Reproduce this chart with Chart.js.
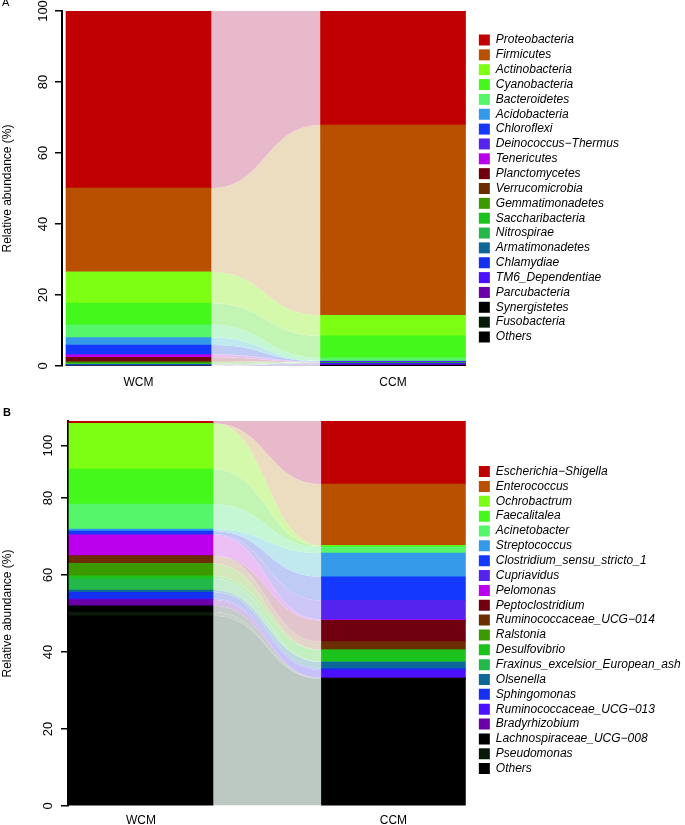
<!DOCTYPE html>
<html>
<head>
<meta charset="utf-8">
<script src="https://cdn.jsdelivr.net/npm/chart.js@4.4.1/dist/chart.umd.min.js"></script>
<style>
  body { margin: 0; background: #fff; width: 685px; height: 825px; overflow: hidden; position: relative; font-family: "Liberation Sans", Arial, sans-serif; }
  canvas { position: absolute; left: 0; }
  #chartA { top: 0; }
  #chartB { top: 395px; }
  .tag { position: absolute; font-size: 11px; color: #000; z-index: 2; }
</style>
</head>
<body>
<canvas id="chartA" width="685" height="395"></canvas>
<canvas id="chartB" width="685" height="430"></canvas>
<div class="tag" style="left:2px;top:-4px">A</div>
<div class="tag" style="left:3px;top:406px;font-weight:bold">B</div>
<script>
const groups = ['WCM', 'CCM']

// panel A, phylum level (legend order = top of the stack first)
const phyla = ['Proteobacteria', 'Firmicutes', 'Actinobacteria', 'Cyanobacteria', 'Bacteroidetes',
  'Acidobacteria', 'Chloroflexi', 'Deinococcus\u2212Thermus', 'Tenericutes', 'Planctomycetes',
  'Verrucomicrobia', 'Gemmatimonadetes', 'Saccharibacteria', 'Nitrospirae', 'Armatimonadetes',
  'Chlamydiae', 'TM6_Dependentiae', 'Parcubacteria', 'Synergistetes', 'Fusobacteria', 'Others']
const phylaWCM = [49.9, 23.6, 8.8, 6.1, 3.6, 2.1, 2.6, 0.15, 0.7, 1.05, 0.3, 0.4, 0.2, 0.1, 0.1, 0.3, 0, 0, 0, 0, 0]
const phylaCCM = [32.1, 53.6, 5.8, 6.2, 0.9, 0.1, 0.1, 0.1, 0.05, 0.05, 0.05, 0.05, 0.05, 0.05, 0.05, 0.05, 0.3, 0.2, 0.05, 0.05, 0.1]

// panel B, genus level
const genera = ['Escherichia\u2212Shigella', 'Enterococcus', 'Ochrobactrum', 'Faecalitalea', 'Acinetobacter',
  'Streptococcus', 'Clostridium_sensu_stricto_1', 'Cupriavidus', 'Pelomonas', 'Peptoclostridium',
  'Ruminococcaceae_UCG\u2212014', 'Ralstonia', 'Desulfovibrio', 'Fraxinus_excelsior_European_ash', 'Olsenella',
  'Sphingomonas', 'Ruminococcaceae_UCG\u2212013', 'Bradyrhizobium', 'Lachnospiraceae_UCG\u2212008', 'Pseudomonas', 'Others']
const generaWCM = [0.6, 0, 11.9, 9.1, 6.5, 0.5, 0.8, 0.2, 5.4, 0, 2.0, 3.2, 0.8, 2.9, 0.6, 1.7, 0.2, 1.6, 1.6, 1.0, 49.4]
const generaCCM = [16.4, 15.9, 0.1, 0.3, 1.6, 6.2, 6.1, 5.0, 0.2, 5.5, 2.1, 0.1, 3.0, 0.1, 1.7, 0.4, 2.0, 0.1, 0.1, 0.1, 33.0]

// y tick positions and their printed labels
const ticksA = [0, 20, 40, 60, 80, 100]
const tickLabelsA = ['0', '20', '40', '60', '80', '100']
const ticksB = [0, 20, 40, 60, 80, 93.6]
const tickLabelsB = ['0', '20', '40', '60', '80', '100']

const barColors = ['#c00000', '#b85000', '#7cff12', '#45f81b', '#55f66a', '#3399e8', '#1538ff',
  '#5522ee', '#bb00ee', '#700010', '#6b2e00', '#3a9a00', '#1cc21c', '#22b84a', '#0d6799',
  '#1430f0', '#4a10ff', '#6a00a8', '#000000', '#0a1a0a', '#000000']
const flowColors = ['#e7b9cb', '#ecdcc0', '#d4f9aa', '#c2f5b4', '#c5f7d4', '#bfe9ef', '#c0cbf5',
  '#cfc6f8', '#ecc0f5', '#e2c4cc', '#e3d6c8', '#d4e8bc', '#c4efc0', '#c8ecd0', '#bcd8e0',
  '#c0c8f4', '#c8c0f8', '#d6c0ea', '#c4ccca', '#c6d0c8', '#bcc8c2']

Chart.defaults.font.family = '"Liberation Sans", Arial, sans-serif'
Chart.defaults.color = '#000'

// ribbons between the right edge of WCM and the left edge of CCM
const flowPlugin = {
  id: 'flows',
  beforeDatasetsDraw(chart) {
    const ctx = chart.ctx
    chart.data.datasets.forEach((ds, i) => {
      const [a, b] = chart.getDatasetMeta(i).data
      if (!a || !b) return
      const x0 = a.x + a.width / 2
      const x1 = b.x - b.width / 2
      const k = (x1 - x0) * 0.5
      ctx.save()
      ctx.fillStyle = ds.flowColor
      ctx.beginPath()
      ctx.moveTo(x0, a.y)
      ctx.bezierCurveTo(x0 + k, a.y, x1 - k, b.y, x1, b.y)
      ctx.lineTo(x1, b.base)
      ctx.bezierCurveTo(x1 - k, b.base, x0 + k, a.base, x0, a.base)
      ctx.closePath()
      ctx.fill()
      ctx.restore()
    })
  }
}

// axis labels drawn like base R: y numbers along the axis, group names under the bars
const axisLabelPlugin = {
  id: 'axisLabels',
  afterDraw(chart, args, opts) {
    const ys = chart.scales.y
    const xs = chart.scales.x
    const ctx = chart.ctx
    ctx.save()
    ctx.fillStyle = '#000'
    ctx.font = '13px "Liberation Sans", Arial, sans-serif'
    ctx.textAlign = 'center'
    ctx.textBaseline = 'alphabetic'
    ys.ticks.forEach((t, i) => {
      ctx.save()
      ctx.translate(ys.right - opts.gap, ys.getPixelForValue(t.value))
      ctx.rotate(-Math.PI / 2)
      ctx.fillText(opts.labels[i], 0, 0)
      ctx.restore()
    })
    ctx.font = '12px "Liberation Sans", Arial, sans-serif'
    ctx.textBaseline = 'top'
    groups.forEach((g, i) => {
      ctx.fillText(g, xs.getPixelForValue(i), chart.chartArea.bottom + opts.xGap)
    })
    ctx.restore()
  }
}

const legendSpacing = 2.85
const measure = document.createElement('canvas').getContext('2d')
measure.font = 'italic 12px "Liberation Sans", Arial, sans-serif'
const legendPad = names => Math.max(0, 209 - (legendSpacing + 27) - Math.max(...names.map(n => measure.measureText(n).width)))

const makePanel = (id, names, wcm, ccm, ticks, tickLabels, p) => {
  const datasets = names.map((name, i) => ({
    label: name,
    data: [{ x: 0, y: wcm[i] }, { x: 1, y: ccm[i] }],
    backgroundColor: barColors[i],
    flowColor: flowColors[i],
    borderWidth: 0,
    barThickness: p.barWidth,
    stack: 'all'
  })).reverse()

  return new Chart(document.getElementById(id), {
    type: 'bar',
    data: { datasets },
    plugins: [flowPlugin, axisLabelPlugin],
    options: {
      responsive: false,
      animation: false,
      layout: { padding: { top: p.padTop, bottom: p.padBottom, left: 0, right: legendPad(names) } },
      scales: {
        x: {
          type: 'linear',
          offset: false,
          min: p.xMin,
          max: p.xMax,
          afterBuildTicks: s => { s.ticks = [{ value: 0 }, { value: 1 }] },
          afterFit: s => { s.height = p.xHeight },
          ticks: { display: false },
          grid: { display: false, drawTicks: false },
          border: { display: false }
        },
        y: {
          stacked: true,
          min: 0,
          max: 100,
          afterBuildTicks: s => { s.ticks = ticks.map(v => ({ value: v })) },
          afterFit: s => { s.width = p.yWidth },
          ticks: { display: false },
          grid: { drawOnChartArea: false, drawTicks: true, tickLength: 7, color: '#000', lineWidth: 1.5 },
          border: { display: true, color: '#000', width: 2 },
          title: { display: true, text: 'Relative abundance (%)', font: { size: 12 }, padding: 0 }
        }
      },
      plugins: {
        tooltip: { enabled: false },
        axisLabels: { gap: p.labelGap, labels: tickLabels, xGap: p.xGap },
        legend: {
          position: 'right',
          align: 'center',
          reverse: true,
          maxWidth: 209,
          labels: {
            boxWidth: 11,
            boxHeight: 11,
            padding: legendSpacing,
            color: '#000',
            font: { size: 12, style: 'italic' }
          }
        }
      }
    }
  })
}

makePanel('chartA', phyla, phylaWCM, phylaCCM, ticksA, tickLabelsA, {
  padTop: 11, padBottom: 29, xHeight: 0, xGap: 11, yWidth: 62, labelGap: 15,
  xMin: -0.3006, xMax: 1.326, barWidth: 145
})
makePanel('chartB', genera, generaWCM, generaCCM, ticksB, tickLabelsB, {
  padTop: 26, padBottom: 5.8, xHeight: 13.2, xGap: 9, yWidth: 68, labelGap: 16.5,
  xMin: -0.289, xMax: 1.327, barWidth: 144
})
</script>
</body>
</html>
